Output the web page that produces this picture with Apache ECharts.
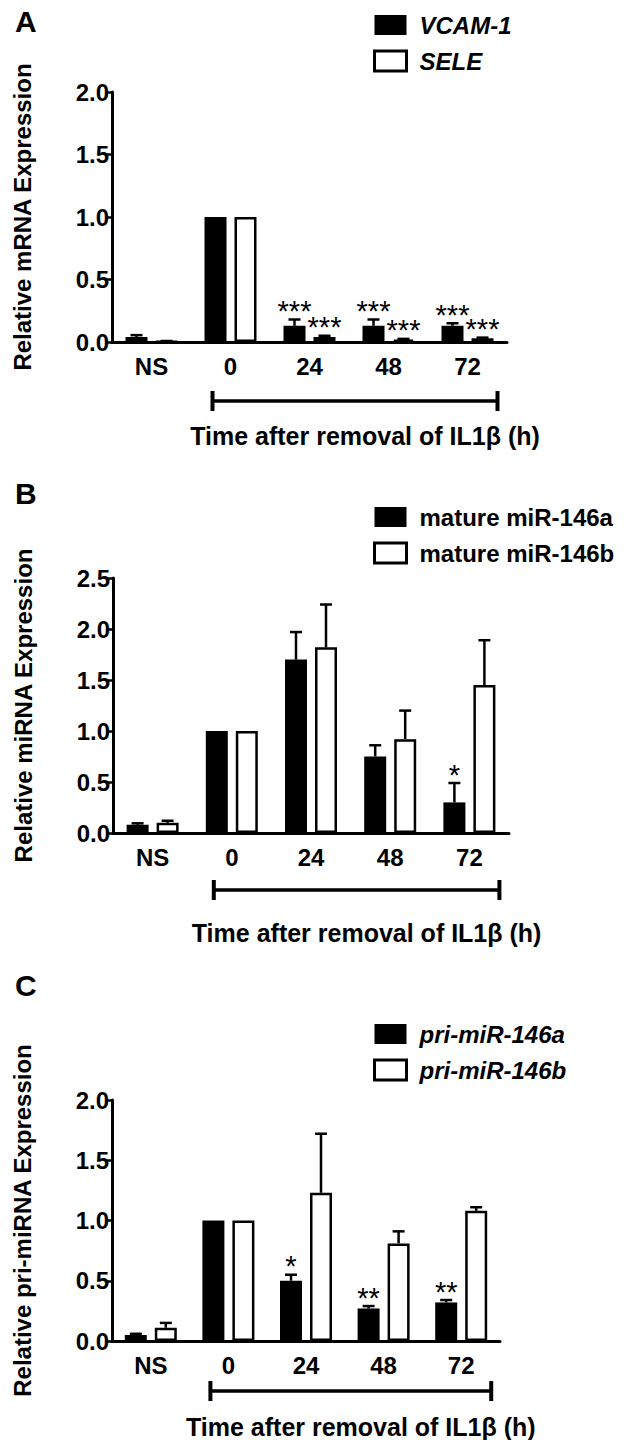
<!DOCTYPE html>
<html>
<head>
<meta charset="utf-8">
<script src="https://cdn.jsdelivr.net/npm/echarts@6/dist/echarts.min.js"></script>
<style>
html,body{margin:0;padding:0;background:#fff;}
#c{width:626px;height:1440px;}
</style>
</head>
<body>
<div id="c"></div>
<script>
// ---- data ----
const categories = ['NS', '0', '24', '48', '72'];

// Panel A
const vcam1 = [0.04, 1.0, 0.13, 0.13, 0.13];
const vcam1Err = [0.015, 0, 0.05, 0.05, 0.02];
const vcam1Sig = ['', '', '***', '***', '***'];
const sele = [0.005, 1.0, 0.04, 0.02, 0.03];
const seleErr = [0.003, 0, 0.01, 0.005, 0.005];
const seleSig = ['', '', '***', '***', '***'];

// Panel B
const mir146a = [0.08, 1.0, 1.70, 0.75, 0.30];
const mir146aErr = [0.015, 0, 0.27, 0.11, 0.19];
const mir146aSig = ['', '', '', '', '*'];
const mir146b = [0.10, 1.0, 1.82, 0.92, 1.45];
const mir146bErr = [0.02, 0, 0.42, 0.28, 0.44];
const mir146bSig = ['', '', '', '', ''];

// Panel C
const pri146a = [0.05, 1.0, 0.50, 0.27, 0.32];
const pri146aErr = [0.01, 0, 0.05, 0.02, 0.02];
const pri146aSig = ['', '', '*', '**', '**'];
const pri146b = [0.11, 1.0, 1.23, 0.81, 1.08];
const pri146bErr = [0.04, 0, 0.49, 0.10, 0.03];
const pri146bSig = ['', '', '', '', ''];

// ---- style ----
const FONT = 'Liberation Sans, Arial, Helvetica, sans-serif';
const BAR_W = 22, BAR_GAP = 8;
const OFF = (BAR_W + BAR_GAP) / 2;

const panels = [
  { letter: 'A', grid: {left: 112, top: 92, width: 395, height: 250}, yMax: 2.0,
    yName: 'Relative mRNA Expression', italic: true,
    legendTop: 8,
    s1: {name: 'VCAM-1', v: vcam1, e: vcam1Err, sig: vcam1Sig},
    s2: {name: 'SELE', v: sele, e: seleErr, sig: seleSig},
    letterTop: 1, titleY: 436, bracketY: 401 },
  { letter: 'B', grid: {left: 113, top: 578, width: 396, height: 255}, yMax: 2.5,
    yName: 'Relative miRNA Expression', italic: false,
    legendTop: 500,
    s1: {name: 'mature miR-146a', v: mir146a, e: mir146aErr, sig: mir146aSig},
    s2: {name: 'mature miR-146b', v: mir146b, e: mir146bErr, sig: mir146bSig},
    letterTop: 473, titleY: 933, bracketY: 890 },
  { letter: 'C', grid: {left: 112, top: 1100, width: 388, height: 241}, yMax: 2.0,
    yName: 'Relative pri-miRNA Expression', italic: true,
    legendTop: 1017,
    s1: {name: 'pri-miR-146a', v: pri146a, e: pri146aErr, sig: pri146aSig},
    s2: {name: 'pri-miR-146b', v: pri146b, e: pri146bErr, sig: pri146bSig},
    letterTop: 965, titleY: 1427, bracketY: 1391 }
];

function errSeries(idx, s, sign) {
  return {
    type: 'custom', xAxisIndex: idx, yAxisIndex: idx, z: 5, silent: true,
    data: s.v.map((v, i) => [i, v, s.e[i]]),
    renderItem: function (params, api) {
      const v = api.value(1), e = api.value(2);
      const base = api.coord([api.value(0), v]);
      const x = base[0] + sign * OFF;
      const top = api.coord([api.value(0), v + e]);
      const children = [];
      let yTop = base[1];
      if (e > 0) {
        yTop = top[1];
        children.push({type: 'line', shape: {x1: x, y1: base[1], x2: x, y2: top[1]},
          style: {stroke: '#000', lineWidth: 2.5}});
        children.push({type: 'line', shape: {x1: x - 6, y1: top[1], x2: x + 6, y2: top[1]},
          style: {stroke: '#000', lineWidth: 2.5}});
      }
      const sigText = s.sig[params.dataIndex];
      if (sigText) {
        children.push({type: 'text', style: {text: sigText, x: x, y: yTop + 6,
          align: 'center', verticalAlign: 'bottom', fontSize: 29, fontFamily: FONT, fill: '#000'}});
      }
      return {type: 'group', children: children};
    }
  };
}

const option = {
  animation: false,
  backgroundColor: '#fff',
  grid: [], xAxis: [], yAxis: [], series: [], legend: [], title: []
};

panels.forEach((p, k) => {
  option.grid.push(Object.assign({containLabel: false}, p.grid));
  option.xAxis.push({
    type: 'category', gridIndex: k, data: categories,
    axisLine: {show: true, lineStyle: {color: '#000', width: 3}},
    axisTick: {show: false},
    axisLabel: {color: '#000', fontSize: 24, fontWeight: 'bold', fontFamily: FONT, margin: 12},
    splitLine: {show: false}
  });
  option.yAxis.push({
    type: 'value', gridIndex: k, min: 0, max: p.yMax, interval: 0.5,
    name: p.yName, nameLocation: 'middle', nameGap: 78, nameRotate: 90,
    nameTextStyle: {color: '#000', fontSize: 24, fontWeight: 'bold', fontFamily: FONT},
    axisLine: {show: true, lineStyle: {color: '#000', width: 3}},
    axisTick: {show: true, length: 6, lineStyle: {color: '#000', width: 2.5}},
    axisLabel: {color: '#000', fontSize: 24, fontWeight: 'bold', fontFamily: FONT, margin: 3,
      formatter: v => v.toFixed(1)},
    splitLine: {show: false}
  });
  option.series.push({
    type: 'bar', name: p.s1.name, xAxisIndex: k, yAxisIndex: k, data: p.s1.v,
    barWidth: BAR_W, barGap: (BAR_GAP / BAR_W * 100) + '%',
    itemStyle: {color: '#000', borderColor: '#000', borderWidth: 0}
  });
  option.series.push({
    type: 'bar', name: p.s2.name, xAxisIndex: k, yAxisIndex: k, data: p.s2.v,
    barWidth: BAR_W, barGap: (BAR_GAP / BAR_W * 100) + '%',
    itemStyle: {color: '#fff', borderColor: '#000', borderWidth: 2.5}
  });
  option.series.push(errSeries(k, p.s1, -1));
  option.series.push(errSeries(k, p.s2, 1));
  option.legend.push({
    left: 368, top: p.legendTop, orient: 'vertical', selectedMode: false,
    itemWidth: 32, itemHeight: 20, itemGap: 12,
    textStyle: {color: '#000', fontSize: 24, fontWeight: 'bold',
      fontStyle: p.italic ? 'italic' : 'normal', fontFamily: FONT, padding: [0, 0, 0, 8]},
    data: [
      {name: p.s1.name, icon: 'rect', itemStyle: {color: '#000', borderWidth: 0}},
      {name: p.s2.name, icon: 'rect', itemStyle: {color: '#fff', borderColor: '#000', borderWidth: 3}}
    ]
  });
  option.title.push({
    text: p.letter, left: 10, top: p.letterTop,
    textStyle: {color: '#000', fontSize: 30, fontWeight: 'bold', fontFamily: FONT}
  });
});

const chart = echarts.init(document.getElementById('c'), null, {renderer: 'svg', width: 626, height: 1440});
chart.setOption(option);

// brackets and x titles positioned from the axes
const graphics = [];
panels.forEach((p, k) => {
  const x0 = chart.convertToPixel({xAxisIndex: k}, '0');
  const x72 = chart.convertToPixel({xAxisIndex: k}, '72');
  const xl = x0 - 18, xr = x72 + 30;
  const y = p.bracketY;
  graphics.push({type: 'line', shape: {x1: xl, y1: y, x2: xr, y2: y}, style: {stroke: '#000', lineWidth: 3.5}});
  graphics.push({type: 'line', shape: {x1: xl, y1: y - 10, x2: xl, y2: y + 10}, style: {stroke: '#000', lineWidth: 4}});
  graphics.push({type: 'line', shape: {x1: xr, y1: y - 10, x2: xr, y2: y + 10}, style: {stroke: '#000', lineWidth: 4}});
  graphics.push({type: 'text', x: (xl + xr) / 2 + 10, y: p.titleY,
    style: {text: 'Time after removal of IL1\u03B2 (h)', align: 'center', verticalAlign: 'middle',
      fontSize: 25, fontWeight: 'bold', fontFamily: FONT, fill: '#000'}});
});
chart.setOption({graphic: graphics});
</script>
</body>
</html>
